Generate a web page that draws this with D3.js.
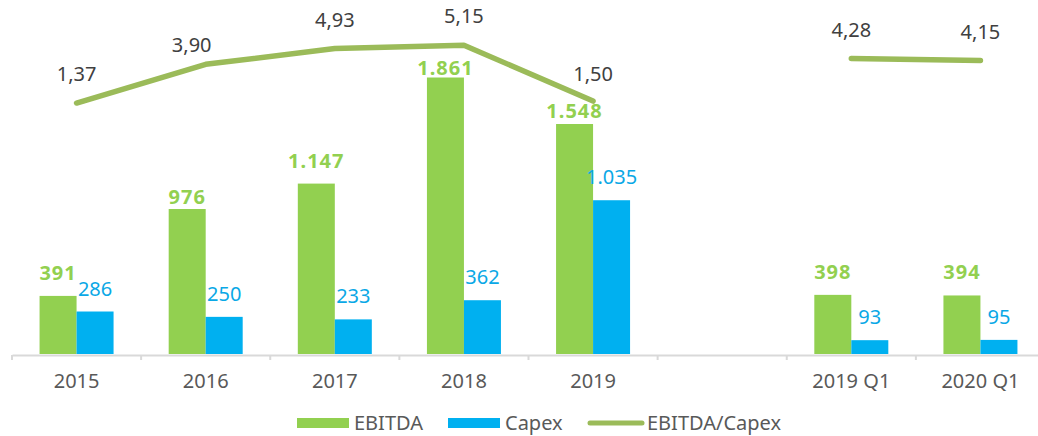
<!DOCTYPE html>
<html>
<head>
<meta charset="utf-8">
<script src="https://cdn.jsdelivr.net/npm/d3@7"></script>
<style>
  body { margin: 0; background: #fff; }
  svg text { font-family: "Noto Sans", "Open Sans", sans-serif; }
</style>
</head>
<body>
<script>
// Data
const categories = ["2015", "2016", "2017", "2018", "2019", "", "2019 Q1", "2020 Q1"];
const ebitda = [391, 976, 1147, 1861, 1548, null, 398, 394];
const capex = [286, 250, 233, 362, 1035, null, 93, 95];
const ratio = [1.37, 3.90, 4.93, 5.15, 1.50, null, 4.28, 4.15];
const seriesNames = ["EBITDA", "Capex", "EBITDA/Capex"];

const colors = { EBITDA: "#92D050", Capex: "#00B0F0", ratio: "#9BBB59" };

const width = 1038, height = 436;
const baseY = 354;

const svg = d3.select("body").append("svg")
    .attr("width", width)
    .attr("height", height);

const locale = d3.formatLocale({ decimal: ",", thousands: ".", grouping: [3], currency: ["", ""] });
const fmtInt = locale.format(",d");
const fmtDec = locale.format(".2f");

// Scales
const x = d3.scaleBand()
    .domain(categories.map((d, i) => i))
    .range([12, 1045])
    .padding(0);

const xInner = d3.scaleBand()
    .domain(["EBITDA", "Capex"])
    .range([0, 74]);

const y = d3.scaleLinear()
    .domain([0, 2100])
    .range([baseY, 42]);

const y2 = d3.scaleLinear()
    .domain([0, 6])
    .range([124, 32.2]);

const groupX = i => x(i) + x.bandwidth() / 2 - 37;

// Bars
const barData = [];
categories.forEach((c, i) => {
    if (ebitda[i] != null) barData.push({ i, key: "EBITDA", v: ebitda[i] });
    if (capex[i] != null) barData.push({ i, key: "Capex", v: capex[i] });
});

svg.append("g").selectAll("rect")
    .data(barData)
    .enter().append("rect")
    .attr("x", d => groupX(d.i) + xInner(d.key))
    .attr("y", d => y(d.v))
    .attr("width", xInner.bandwidth())
    .attr("height", d => baseY - y(d.v))
    .attr("fill", d => colors[d.key]);

// Axis
const axis = svg.append("g")
    .attr("transform", `translate(0, ${baseY + 1})`)
    .call(d3.axisBottom(x).tickSize(0).tickFormat(i => categories[i]));
axis.select(".domain").attr("stroke", "#D9D9D9").attr("stroke-width", 2);
axis.selectAll(".tick text")
    .attr("y", 33)
    .attr("dy", 0)
    .attr("fill", "#595959")
    .style("font-size", "20px");

// tick marks between categories
svg.append("g").selectAll("line")
    .data(categories.map((d, i) => i))
    .enter().append("line")
    .attr("x1", i => x(i))
    .attr("x2", i => x(i))
    .attr("y1", baseY + 1)
    .attr("y2", baseY + 6)
    .attr("stroke", "#D9D9D9")
    .attr("stroke-width", 2);

// Bar labels (a few are pulled down so they clear the ratio line)
const barLabelGap = { "EBITDA-1": 5, "EBITDA-3": 3, "EBITDA-4": 6 };
svg.append("g").selectAll("text")
    .data(barData)
    .enter().append("text")
    .attr("x", d => groupX(d.i) + xInner(d.key) + xInner.bandwidth() / 2)
    .attr("y", d => y(d.v) - (barLabelGap[d.key + "-" + d.i] ?? 16))
    .attr("text-anchor", "middle")
    .attr("fill", d => d.key === "EBITDA" ? "#92D050" : "#0AA8E6")
    .style("font-size", "20px")
    .style("font-weight", d => d.key === "EBITDA" ? "bold" : "normal")
    .style("letter-spacing", d => d.key === "EBITDA" ? "1px" : "0px")
    .text(d => fmtInt(d.v));

// Ratio line
const line = d3.line()
    .defined(d => d != null)
    .x((d, i) => x(i) + x.bandwidth() / 2)
    .y(d => y2(d));

svg.append("path")
    .datum(ratio)
    .attr("d", line)
    .attr("fill", "none")
    .attr("stroke", colors.ratio)
    .attr("stroke-width", 5.5)
    .attr("stroke-linecap", "round")
    .attr("stroke-linejoin", "round");

const ratioNudge = { 1: [-14, 10], 4: [0, 2] };
svg.append("g").selectAll("text")
    .data(ratio.map((v, i) => ({ v, i })).filter(d => d.v != null))
    .enter().append("text")
    .attr("x", d => x(d.i) + x.bandwidth() / 2 + (ratioNudge[d.i] ? ratioNudge[d.i][0] : 0))
    .attr("y", d => y2(d.v) - 22 + (ratioNudge[d.i] ? ratioNudge[d.i][1] : 0))
    .attr("text-anchor", "middle")
    .attr("fill", "#404040")
    .style("font-size", "20px")
    .text(d => fmtDec(d.v));

// Legend
const legendItems = [
    { name: seriesNames[0], type: "rect", color: colors.EBITDA, x: 297 },
    { name: seriesNames[1], type: "rect", color: colors.Capex, x: 448 },
    { name: seriesNames[2], type: "line", color: colors.ratio, x: 588 }
];
const legend = svg.selectAll(".legend")
    .data(legendItems)
    .enter().append("g")
    .attr("class", "legend")
    .attr("transform", d => `translate(${d.x}, 423)`);

legend.filter(d => d.type === "rect").append("rect")
    .attr("x", 0).attr("y", -5)
    .attr("width", 52).attr("height", 10)
    .attr("fill", d => d.color);

legend.filter(d => d.type === "line").append("line")
    .attr("x1", 2).attr("x2", 54)
    .attr("y1", 0).attr("y2", 0)
    .attr("stroke", d => d.color)
    .attr("stroke-width", 5)
    .attr("stroke-linecap", "round");

legend.append("text")
    .attr("x", d => d.type === "line" ? 59 : 57)
    .attr("y", 7)
    .attr("fill", "#595959")
    .style("font-size", "20px")
    .text(d => d.name);
</script>
</body>
</html>
